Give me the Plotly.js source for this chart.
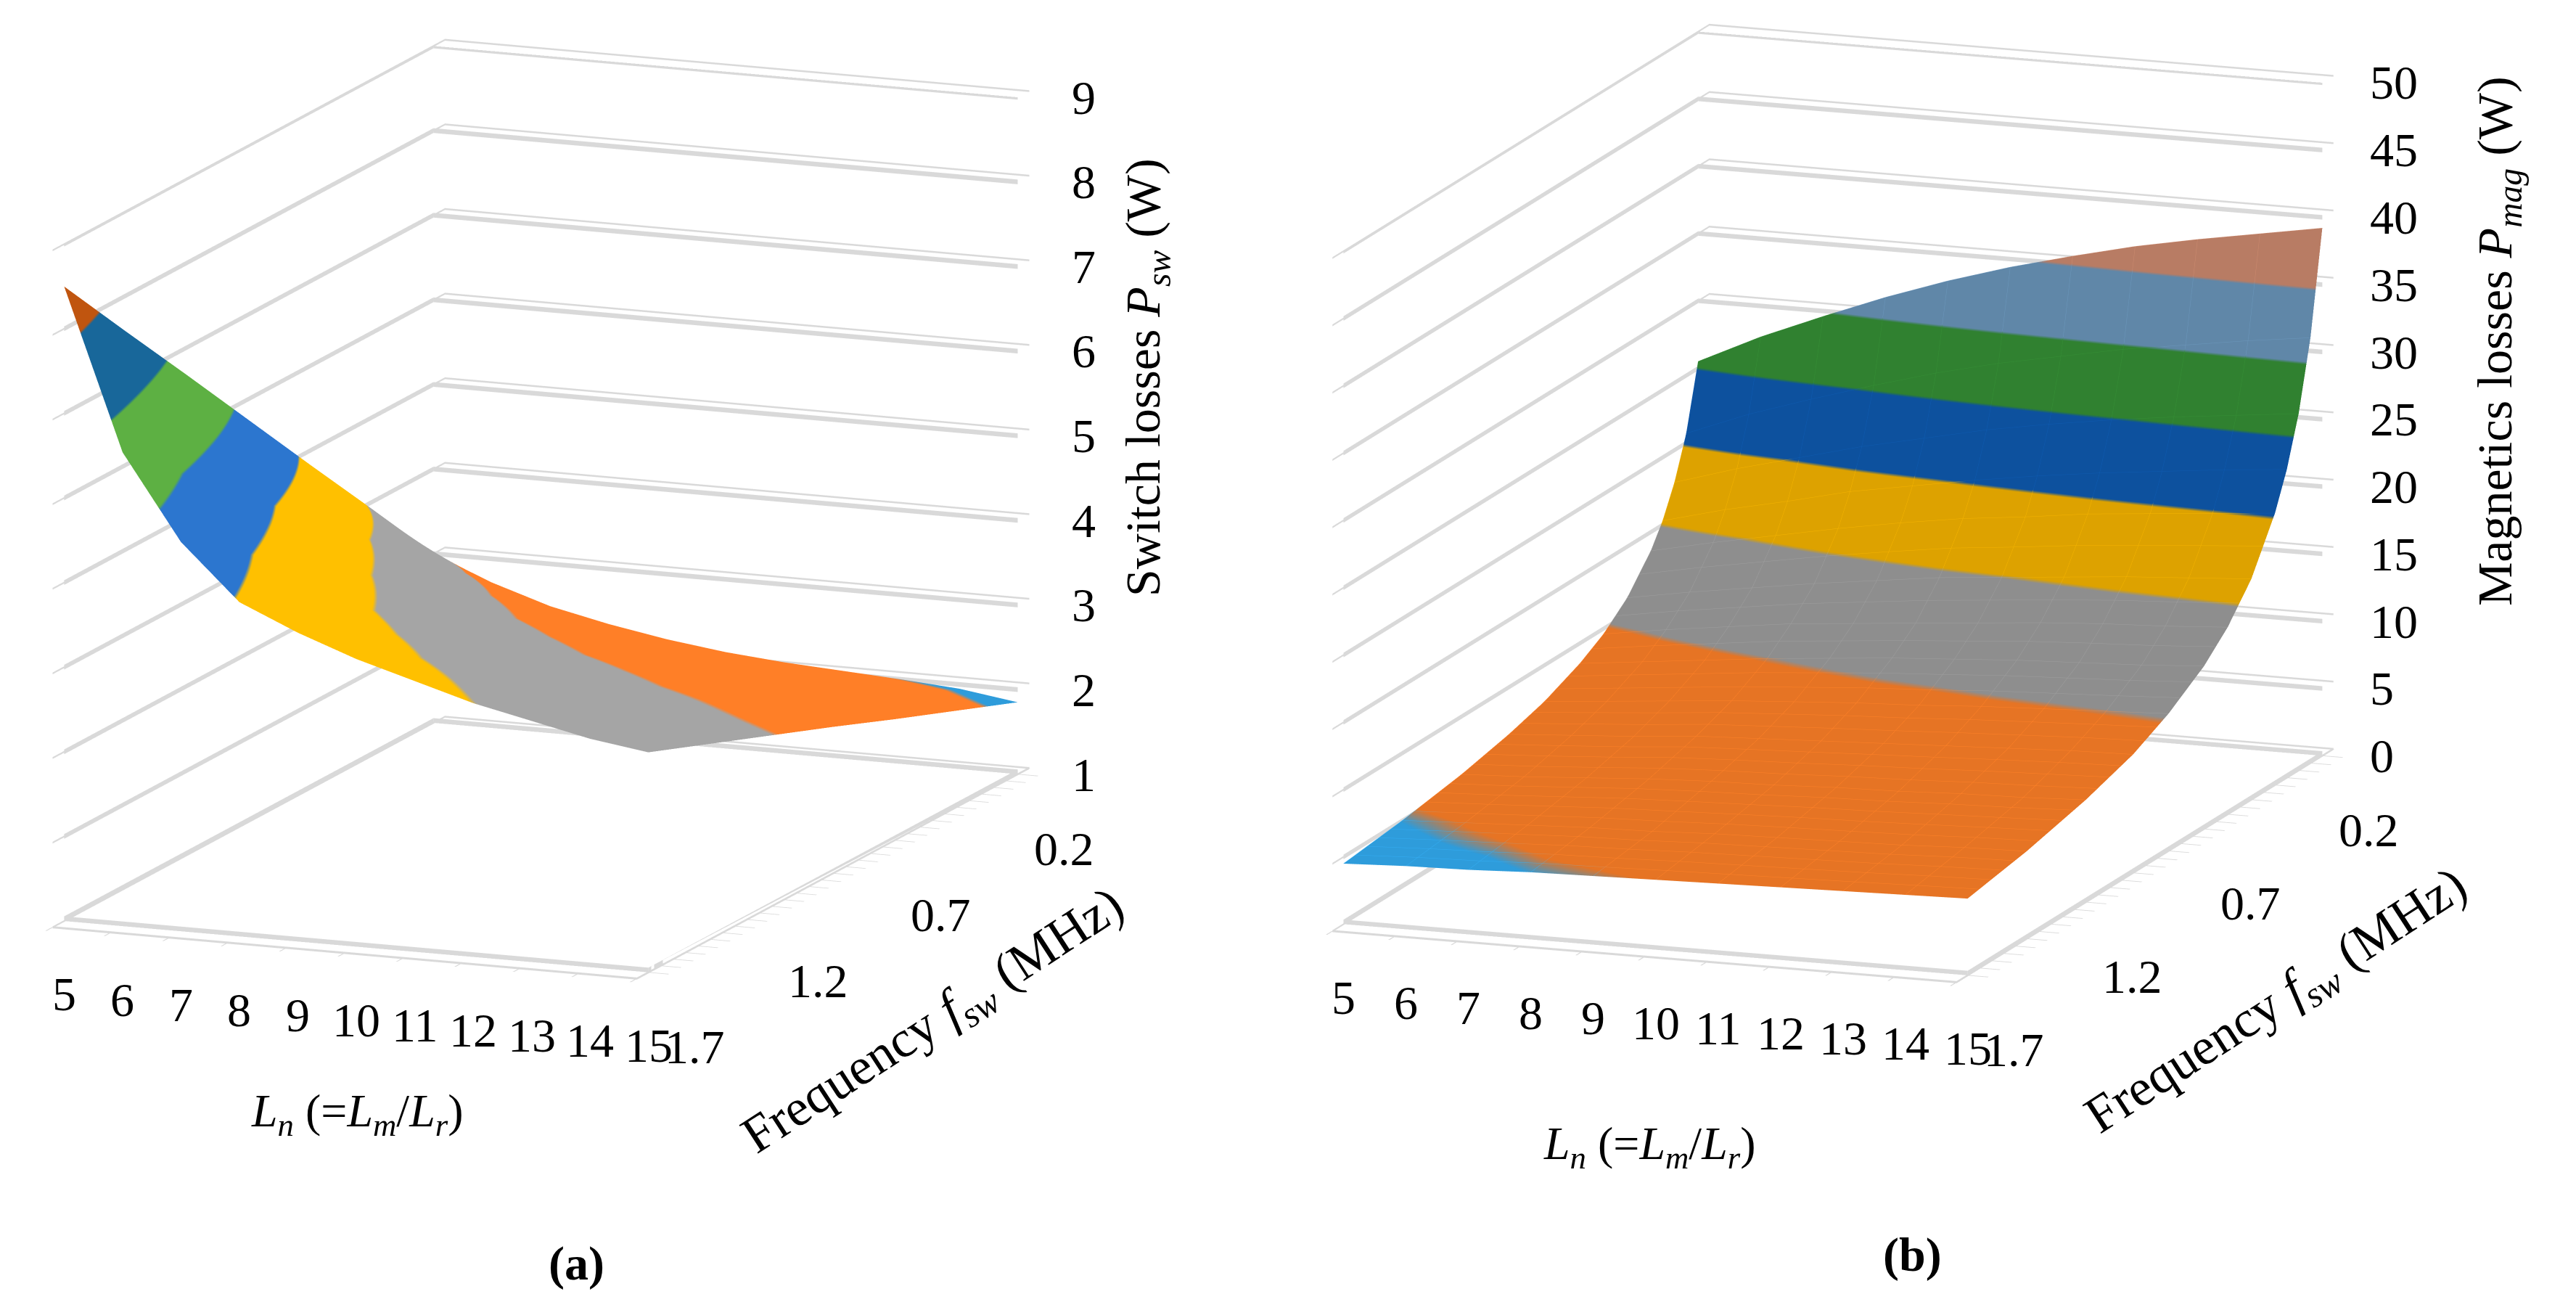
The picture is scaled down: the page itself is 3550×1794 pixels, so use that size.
<!DOCTYPE html>
<html>
<head>
<meta charset="utf-8">
<script src="https://cdn.plot.ly/plotly-3.0.1.min.js"></script>
<style>html,body{margin:0;padding:0;background:#fff;}#chart{width:3550px;height:1794px;}</style>
</head>
<body>
<div id="chart"></div>
<script>
// ---- data ----
var lnValues = [5, 6, 7, 8, 9, 10, 11, 12, 13, 14, 15];
var lnTickLabels = ['5','6','7','8','9','10','11','12','13','14','15'];
var fTickVals = [0.2, 0.7, 1.2, 1.7];
var fTickLabels = ['0.2','0.7','1.2','1.7'];
var fMinorTicks = [0.2,0.25,0.3,0.35,0.4,0.45,0.5,0.55,0.6,0.65,0.7,0.75,0.8,0.85,0.9,0.95,1.0,1.05,1.1,1.15,1.2,1.25,1.3,1.35,1.4,1.45,1.5,1.55,1.6,1.65,1.7];

var freqA = [0.2, 0.45, 0.7, 0.95, 1.2, 1.45, 1.7];
var pswA = [
  [3.00, 2.72, 2.50, 2.35, 2.23, 2.14, 2.08, 2.04, 2.00, 1.95, 1.85],
  [3.92, 3.37, 3.02, 2.78, 2.63, 2.52, 2.43, 2.37, 2.31, 2.24, 2.14],
  [4.83, 4.01, 3.53, 3.22, 3.04, 2.89, 2.79, 2.69, 2.62, 2.53, 2.43],
  [5.75, 4.66, 4.05, 3.65, 3.44, 3.27, 3.14, 3.02, 2.93, 2.83, 2.73],
  [6.67, 5.31, 4.57, 4.08, 3.84, 3.65, 3.49, 3.35, 3.23, 3.12, 3.02],
  [7.58, 5.95, 5.08, 4.52, 4.25, 4.02, 3.85, 3.67, 3.54, 3.41, 3.31],
  [8.50, 6.60, 5.60, 4.95, 4.65, 4.40, 4.20, 4.00, 3.85, 3.70, 3.60]
];
var zTicksA = [1, 2, 3, 4, 5, 6, 7, 8, 9];

var freqB = [0.2, 0.25, 0.3, 0.35, 0.4, 0.5, 0.6, 0.7, 0.85, 1.0, 1.2, 1.45, 1.7];
var pmagB = [
  [25.5, 27.7, 29.6, 31.4, 33.0, 34.4, 35.6, 36.7, 37.6, 38.4, 39.2],
  [20.7, 22.5, 24.0, 25.4, 26.7, 27.8, 28.7, 29.6, 30.3, 31.0, 31.6],
  [17.6, 19.0, 20.2, 21.4, 22.4, 23.4, 24.2, 24.9, 25.5, 26.0, 26.5],
  [15.3, 16.5, 17.5, 18.6, 19.4, 20.2, 20.9, 21.5, 22.0, 22.5, 22.9],
  [13.6, 14.6, 15.5, 16.4, 17.2, 17.9, 18.4, 19.0, 19.4, 19.8, 20.2],
  [11.2, 12.0, 12.7, 13.4, 14.0, 14.6, 15.0, 15.4, 15.8, 16.1, 16.4],
  [9.6, 10.3, 10.9, 11.5, 11.9, 12.3, 12.7, 13.1, 13.4, 13.6, 13.9],
  [8.5, 9.0, 9.5, 10.0, 10.4, 10.8, 11.1, 11.4, 11.6, 11.8, 12.1],
  [7.3, 7.7, 8.1, 8.5, 8.8, 9.1, 9.3, 9.6, 9.8, 10.0, 10.2],
  [6.5, 6.8, 7.1, 7.5, 7.7, 7.9, 8.1, 8.3, 8.5, 8.7, 8.8],
  [5.7, 5.9, 6.2, 6.5, 6.7, 6.8, 7.0, 7.1, 7.3, 7.4, 7.6],
  [5.0, 5.2, 5.4, 5.6, 5.7, 5.9, 6.0, 6.1, 6.2, 6.4, 6.5],
  [4.5, 4.7, 4.8, 5.0, 5.1, 5.2, 5.3, 5.4, 5.5, 5.6, 5.7]
];
var zTicksB = [0, 5, 10, 15, 20, 25, 30, 35, 40, 45, 50];

var bandColorsA = ['#2E9CDB', '#FF7F27', '#A5A5A5', '#FFC000', '#2C76CF', '#5DB043', '#18679A', '#C0550F'];
var bandColorsB = ['#33ADF3', '#FF8128', '#9E9E9E', '#F5B400', '#0E5AB0', '#358F35', '#6B96BB', '#CC8A6F', '#636363', '#997300'];

// ---- helpers ----
function stepScale(colors) {
  var n = colors.length, cs = [];
  for (var i = 0; i < n; i++) {
    cs.push([i / n, colors[i]]);
    cs.push([(i + 1) / n, colors[i]]);
  }
  return cs;
}
var FONT = 'Liberation Serif, Times New Roman, serif';
var GRID = '#d9d9d9';

// thick light-grey wall grid lines and floor edges, built from the axis tick arrays
function wallGrid(sceneId, zTicks, halfW) {
  var xs = [], ys = [], zs = [], I = [], J = [], K = [];
  var x0 = lnValues[0], x1 = lnValues[lnValues.length - 1];
  var yBack = fMinorTicks[0], yFront = fMinorTicks[fMinorTicks.length - 1];
  var zmin = zTicks[0];
  function quad(p) {
    var b = xs.length;
    p.forEach(function (q) { xs.push(q[0]); ys.push(q[1]); zs.push(q[2]); });
    I.push(b, b); J.push(b + 1, b + 2); K.push(b + 2, b + 3);
  }
  zTicks.forEach(function (v) {
    var lo = Math.max(v - halfW, zmin), hi = lo + 2 * halfW;
    quad([[x0, yBack, lo], [x0, yFront, lo], [x0, yFront, hi], [x0, yBack, hi]]);
    quad([[x0, yBack, lo], [x1, yBack, lo], [x1, yBack, hi], [x0, yBack, hi]]);
  });
  quad([[x0, yFront, zmin], [x1, yFront, zmin], [x1, yFront, zmin + 2 * halfW], [x0, yFront, zmin + 2 * halfW]]);
  quad([[x1, yBack, zmin], [x1, yFront, zmin], [x1, yFront, zmin + 2 * halfW], [x1, yBack, zmin + 2 * halfW]]);
  return {
    type: 'mesh3d', scene: sceneId, x: xs, y: ys, z: zs, i: I, j: J, k: K,
    color: GRID, flatshading: true, hoverinfo: 'skip', showscale: false,
    lighting: {ambient: 1, diffuse: 0, specular: 0, roughness: 1, fresnel: 0}
  };
}

function sceneAnn(zTicks, zShift) {
  var anns = [];
  var zmin = zTicks[0];
  lnValues.forEach(function (v, i) {
    anns.push({x: v, y: 1.7, z: zmin, text: lnTickLabels[i], showarrow: false,
      xanchor: 'center', yanchor: 'top', yshift: -62, font: {family: FONT, size: 66, color: '#000'}});
  });
  fTickVals.forEach(function (v, i) {
    anns.push({x: 15, y: v, z: zmin, text: fTickLabels[i], showarrow: false,
      xanchor: 'center', yanchor: 'middle', xshift: 64, yshift: -102, font: {family: FONT, size: 66, color: '#000'}});
  });
  zTicks.forEach(function (v) {
    anns.push({x: 15, y: 0.2, z: v, text: String(v), showarrow: false,
      xanchor: 'left', yanchor: 'middle', xshift: zShift, font: {family: FONT, size: 66, color: '#000'}});
  });
  return anns;
}

function makeScene(domainX, domainY, zTicks, zRange, s, aspZ, eye, cz, zShift) {
  return {
    domain: {x: domainX, y: domainY},
    bgcolor: 'rgba(0,0,0,0)',
    aspectmode: 'manual',
    aspectratio: {x: 1 * s, y: 1.66 * s, z: aspZ * s},
    camera: {
      projection: {type: 'orthographic'},
      eye: eye,
      up: {x: 0, y: 0, z: 1},
      center: {x: 0, y: 0, z: cz}
    },
    xaxis: {
      title: {text: ''}, range: [5, 15], tickvals: lnValues, ticktext: lnTickLabels,
      showticklabels: false, showgrid: false, zeroline: false, showbackground: false,
      showline: true, linecolor: GRID, linewidth: 6, ticks: 'outside', ticklen: 30,
      tickcolor: GRID, tickwidth: 4, showspikes: false
    },
    yaxis: {
      title: {text: ''}, autorange: 'reversed', tickvals: fMinorTicks,
      showticklabels: false, showgrid: false, zeroline: false, showbackground: false,
      showline: true, linecolor: GRID, linewidth: 6, ticks: 'outside', ticklen: 24,
      tickcolor: GRID, tickwidth: 3, showspikes: false
    },
    zaxis: {
      title: {text: ''}, range: zRange, tickvals: zTicks, showticklabels: false,
      showgrid: true, gridcolor: GRID, gridwidth: 5, zeroline: false, showbackground: false,
      showline: false, ticks: '', showspikes: false
    },
    annotations: sceneAnn(zTicks, zShift)
  };
}

var traceA = {
  type: 'surface', x: lnValues, y: freqA, z: pswA, scene: 'scene',
  cmin: 1, cmax: 9, colorscale: stepScale(bandColorsA), showscale: false,
  hoverinfo: 'skip',
  lighting: {ambient: 1, diffuse: 0, specular: 0, roughness: 1, fresnel: 0}
};
var traceB = {
  type: 'surface', x: lnValues, y: freqB, z: pmagB, scene: 'scene2',
  cmin: 0, cmax: 50, colorscale: stepScale(bandColorsB), showscale: false,
  hoverinfo: 'skip',
  lighting: {ambient: 0.9, diffuse: 0, specular: 0, roughness: 1, fresnel: 0},
  contours: {
    x: {show: true, start: 5, end: 15, size: 1, usecolormap: true, width: 4},
    y: {show: true, start: 0.2, end: 1.7, size: 0.05, usecolormap: true, width: 3}
  }
};

var titleFont = {family: FONT, size: 68, color: '#000'};
var lnTitleFont = {family: FONT, size: 64, color: '#000'};
var freqTitleFont = {family: FONT, size: 72, color: '#000'};
var capFont = {family: FONT, size: 66, color: '#000'};
function pann(x, y, text, font, angle) {
  return {xref: 'paper', yref: 'paper', x: x, y: y, xanchor: 'center', yanchor: 'middle',
    text: text, textangle: angle || 0, showarrow: false, font: font};
}
var lnTitle = '<i>L</i><sub><i>n</i></sub> (=<i>L</i><sub><i>m</i></sub>/<i>L</i><sub><i>r</i></sub>)';
var fTitle = 'Frequency <i>f</i><sub><i>sw</i></sub> (MHz)';

var layout = {
  width: 3550, height: 1794,
  paper_bgcolor: '#ffffff',
  margin: {l: 0, r: 0, t: 0, b: 0},
  showlegend: false,
  scene: makeScene([0, 0.42], [0.206, 1], zTicksA, [1, 9], 1.22, 1.1,
    {x: 0.587, y: -1.451, z: 0.333}, -0.015, 72),
  scene2: makeScene([0.4231, 1], [0.215, 1], zTicksB, [0, 50], 1.3, 1.04,
    {x: 0.534, y: -1.468, z: 0.346}, -0.015, 64),
  annotations: [
    pann(0.445, 0.71, 'Switch losses <i>P</i><sub><i>sw</i></sub> (W)', titleFont, -90),
    pann(0.3628, 0.2146, fTitle, freqTitleFont, -33),
    pann(0.1386, 0.1444, lnTitle, lnTitleFont),
    pann(0.2237, 0.0295, '<b>(a)</b>', capFont),
    pann(0.9696, 0.738, 'Magnetics losses <i>P</i><sub><i>mag</i></sub> (W)', titleFont, -90),
    pann(0.884, 0.2297, fTitle, freqTitleFont, -33),
    pann(0.6403, 0.1193, lnTitle, lnTitleFont),
    pann(0.7425, 0.0362, '<b>(b)</b>', capFont)
  ]
};

Plotly.newPlot('chart', [wallGrid('scene', zTicksA, 0.028), traceA, wallGrid('scene2', zTicksB, 0.17), traceB], layout, {displayModeBar: false});
</script>
</body>
</html>
